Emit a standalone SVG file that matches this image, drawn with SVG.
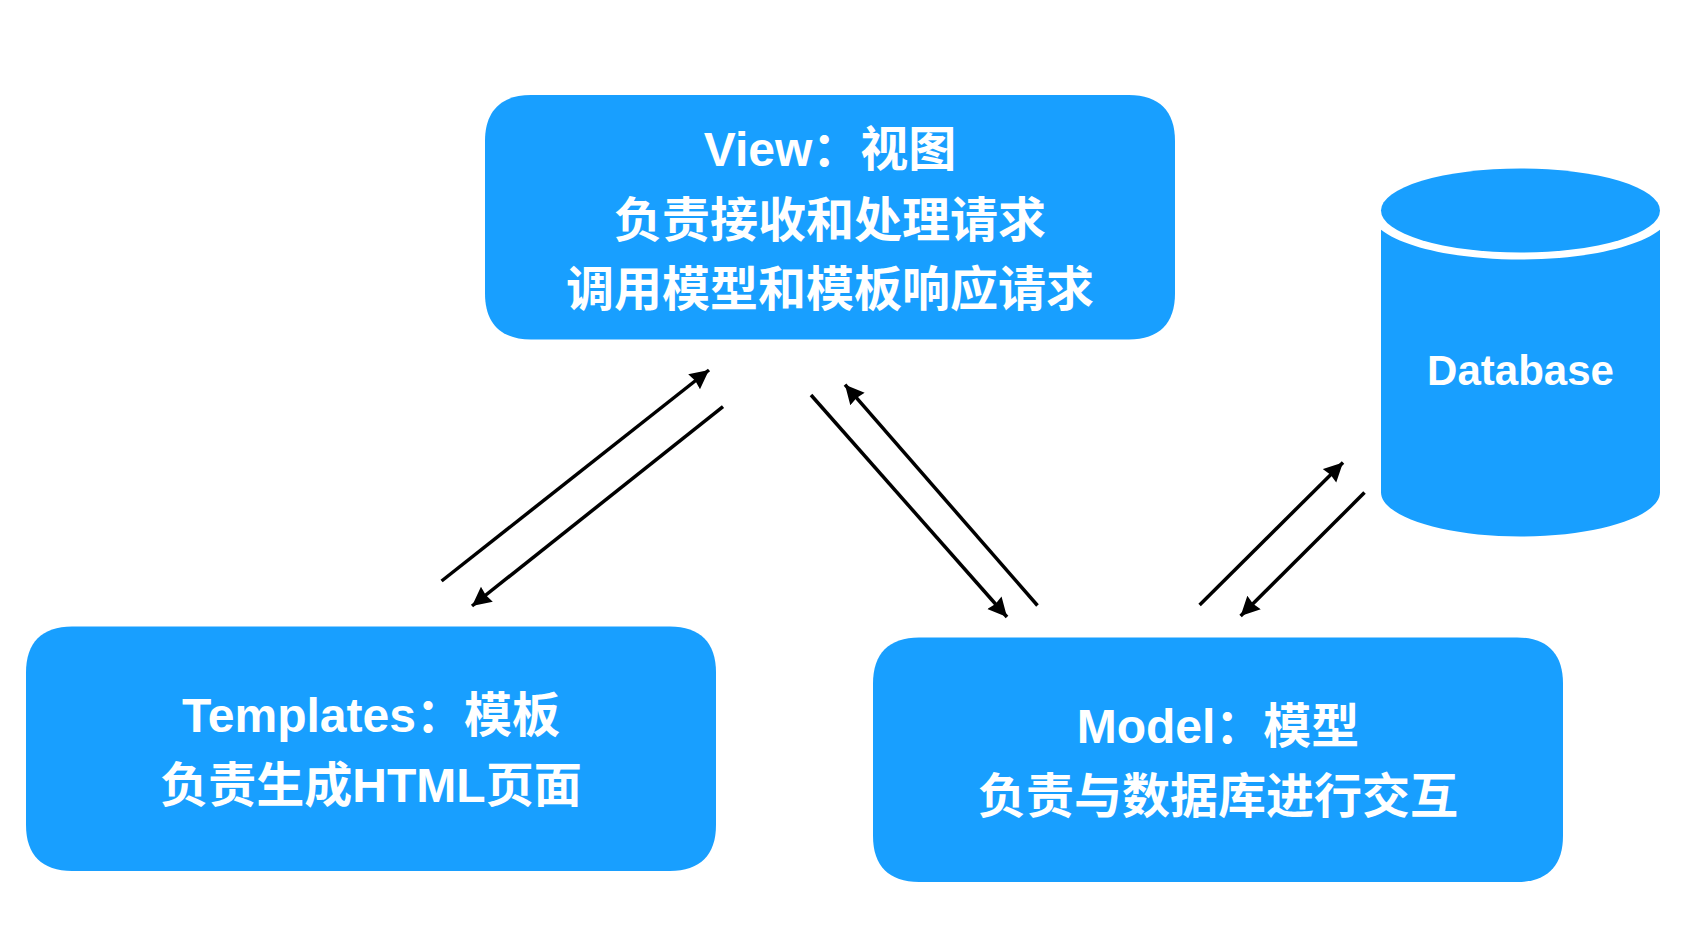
<svg xmlns="http://www.w3.org/2000/svg" width="1690" height="932" viewBox="0 0 1690 932">
<style>
.box{fill:#189fff}
.t{fill:#fff;font-family:"Liberation Sans","Noto Sans CJK SC",sans-serif;font-weight:700;font-size:48px;text-anchor:middle}
.c{stroke:#000;stroke-width:3.5;fill:none;marker-end:url(#a)}
</style>
<defs>
<marker id="a" markerUnits="userSpaceOnUse" markerWidth="20" markerHeight="20" refX="19" refY="9.500" orient="auto"><path d="M0 0L19 9.500L0 19L1.500 9.500Z" fill="#000"/></marker>
<path id="sq" d="M46 0H644C674 0 690 16 690 46V198.500C690 228.500 674 244.500 644 244.500H46C16 244.500 0 228.500 0 198.500V46C0 16 16 0 46 0Z"/>
</defs>
<rect width="1690" height="932" fill="#fff"/>
<g id="connectors">
<line class="c" x1="441.6" y1="581" x2="709" y2="370"/>
<line class="c" x1="723" y1="406.7" x2="472" y2="606"/>
<line class="c" x1="811" y1="395" x2="1007" y2="617"/>
<line class="c" x1="1037.5" y1="605.500" x2="845" y2="384.7"/>
<line class="c" x1="1199.6" y1="605" x2="1343" y2="462.4"/>
<line class="c" x1="1364.5" y1="492.6" x2="1240.6" y2="616"/>
</g>
<g id="view"><use class="box" href="#sq" x="485" y="95"/>
<text class="t" x="830" y="166">View：视图</text>
<text class="t" x="830" y="237">负责接收和处理请求</text>
<text class="t" x="830" y="306">调用模型和模板响应请求</text></g>
<g id="templates"><use class="box" href="#sq" x="26" y="626.500"/>
<text class="t" x="371" y="732">Templates：模板</text>
<text class="t" x="371" y="802">负责生成HTML页面</text></g>
<g id="model"><use class="box" href="#sq" x="873" y="637.500"/>
<text class="t" x="1218" y="743">Model：模型</text>
<text class="t" x="1218" y="813">负责与数据库进行交互</text></g>
<g id="database">
<ellipse class="box" cx="1520.500" cy="210.500" rx="139.500" ry="42"/>
<path class="box" d="M1381 229.800C1405 248.500 1460 259.500 1520.500 259.500C1581 259.500 1636 248.500 1660 229.800V492.200C1660 516.500 1597 536.500 1520.500 536.500C1444 536.500 1381 516.500 1381 492.200Z"/>
<text class="t" style="font-size:42px" x="1520.500" y="385">Database</text></g>
</svg>
